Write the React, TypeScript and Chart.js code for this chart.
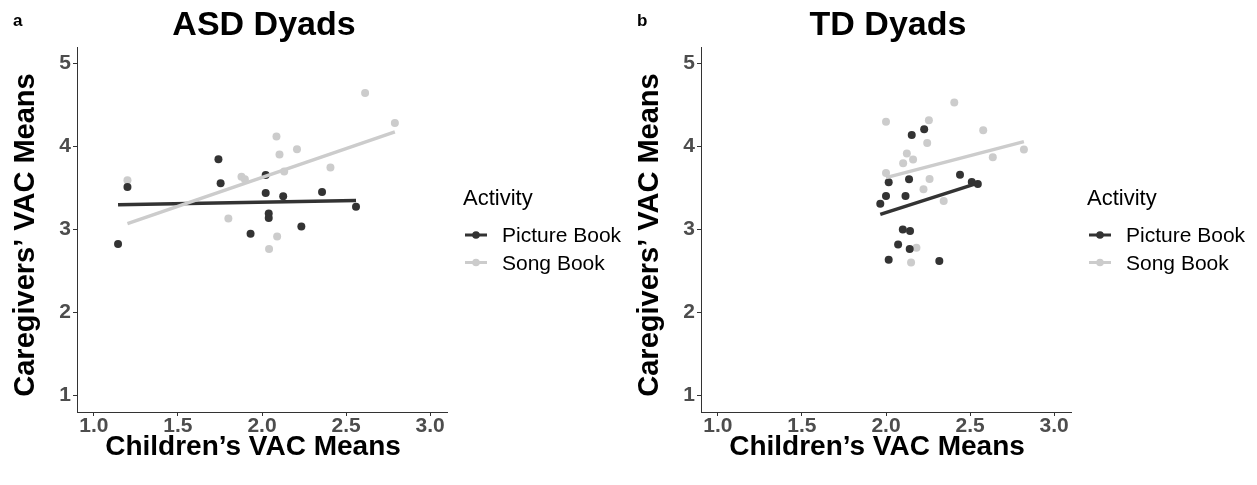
import React, { useEffect, useRef } from 'react';
import { Chart, registerables } from 'chart.js';
Chart.register(...registerables);

const xTicks = [1.0, 1.5, 2.0, 2.5, 3.0];
const yTicks = [1, 2, 3, 4, 5];
const activities = ['Picture Book', 'Song Book'];
const legendTitle = 'Activity';
const xTitle = 'Children\u2019s VAC Means';
const yTitle = 'Caregivers\u2019 VAC Means';

// Panel a: ASD Dyads
const asdPictureX = [1.144, 1.2, 1.741, 1.754, 2.022, 2.022, 2.126, 2.04, 2.04, 1.932, 2.234, 2.357, 2.559];
const asdPictureY = [2.824, 3.512, 3.847, 3.557, 3.657, 3.44, 3.4, 3.194, 3.138, 2.949, 3.037, 3.452, 3.275];
const asdSongX = [1.2, 1.8, 1.878, 1.898, 2.086, 2.104, 2.132, 2.208, 2.407, 2.613, 2.79, 2.042, 2.09];
const asdSongY = [3.593, 3.134, 3.637, 3.605, 4.12, 3.903, 3.698, 3.967, 3.746, 4.644, 4.285, 2.764, 2.917];
const asdPictureFitX = [1.144, 2.559];
const asdPictureFitY = [3.299, 3.351];
const asdSongFitX = [1.2, 2.79];
const asdSongFitY = [3.07, 4.177];

// Panel b: TD Dyads
const tdPictureX = [1.966, 2.0, 2.016, 2.116, 2.137, 2.153, 2.227, 2.44, 2.51, 2.546, 2.1, 2.143, 2.072, 2.141, 2.016, 2.317];
const tdPictureY = [3.311, 3.404, 3.569, 3.404, 3.605, 4.14, 4.209, 3.661, 3.573, 3.549, 3.001, 2.981, 2.82, 2.764, 2.635, 2.619];
const tdSongX = [2.0, 2.255, 2.406, 2.245, 2.124, 2.161, 2.102, 2.0, 2.259, 2.223, 2.343, 2.578, 2.635, 2.82, 2.181, 2.149];
const tdSongY = [4.3, 4.318, 4.531, 4.044, 3.915, 3.843, 3.798, 3.682, 3.609, 3.484, 3.343, 4.197, 3.871, 3.963, 2.78, 2.603];
const tdPictureFitX = [1.966, 2.546];
const tdPictureFitY = [3.182, 3.56];
const tdSongFitX = [2.0, 2.82];
const tdSongFitY = [3.625, 4.06];

const DARK = '#333333';
const LIGHT = '#cccccc';
const FONT = '"Liberation Sans", Arial, Helvetica, sans-serif';

const pts = (xs: number[], ys: number[]) => xs.map((x, i) => ({ x, y: ys[i] }));

type PanelProps = {
  tag: string;
  title: string;
  width: number;
  pictureX: number[]; pictureY: number[];
  songX: number[]; songY: number[];
  pFitX: number[]; pFitY: number[];
  sFitX: number[]; sFitY: number[];
};

function Panel(p: PanelProps) {
  const ref = useRef<HTMLCanvasElement | null>(null);
  useEffect(() => {
    if (!ref.current) return;
    const textPlugin = {
      id: 'panelText',
      afterDraw(chart: any) {
        const { ctx, chartArea: ca } = chart;
        ctx.save();
        ctx.fillStyle = '#000';
        ctx.textBaseline = 'alphabetic';
        ctx.font = `bold 17px ${FONT}`;
        ctx.textAlign = 'left';
        ctx.fillText(p.tag, 13, 26);
        ctx.font = `bold 34px ${FONT}`;
        ctx.textAlign = 'center';
        ctx.fillText(p.title, (ca.left + ca.right) / 2 + 2, 35);
        // axis titles
        ctx.font = `bold 28px ${FONT}`;
        ctx.fillText(xTitle, 253, 455);
        ctx.save();
        ctx.translate(34, 235);
        ctx.rotate(-Math.PI / 2);
        ctx.font = `bold 29px ${FONT}`;
        ctx.fillText(yTitle, 0, 0);
        ctx.restore();
        // legend
        ctx.textAlign = 'left';
        ctx.font = `22px ${FONT}`;
        ctx.fillText(legendTitle, ca.right + 16, 205);
        const colors = [DARK, LIGHT];
        activities.forEach((name, i) => {
          const cy = 235 + i * 27.5;
          ctx.strokeStyle = colors[i];
          ctx.lineWidth = 3;
          ctx.beginPath();
          ctx.moveTo(ca.right + 18, cy);
          ctx.lineTo(ca.right + 40, cy);
          ctx.stroke();
          ctx.fillStyle = colors[i];
          ctx.beginPath();
          ctx.arc(ca.right + 29, cy, 3.8, 0, Math.PI * 2);
          ctx.fill();
          ctx.fillStyle = '#000';
          ctx.font = `21px ${FONT}`;
          ctx.fillText(name, ca.right + 55, cy + 7);
        });
        ctx.restore();
      },
    };
    const chart = new Chart(ref.current, {
      type: 'scatter',
      data: {
        datasets: [
          { label: activities[1] + ' fit', data: pts(p.sFitX, p.sFitY), showLine: true, borderColor: LIGHT, borderWidth: 3.5, pointRadius: 0, order: 0 },
          { label: activities[0] + ' fit', data: pts(p.pFitX, p.pFitY), showLine: true, borderColor: DARK, borderWidth: 3.5, pointRadius: 0, order: 1 },
          { label: activities[0], data: pts(p.pictureX, p.pictureY), backgroundColor: DARK, borderWidth: 0, pointRadius: 4, order: 2 },
          { label: activities[1], data: pts(p.songX, p.songY), backgroundColor: LIGHT, borderWidth: 0, pointRadius: 4, order: 3 },
        ],
      },
      options: {
        responsive: false,
        animation: false,
        layout: { padding: { top: 47, right: p.width - 447, left: 0, bottom: 0 } },
        plugins: { legend: { display: false }, tooltip: { enabled: false }, title: { display: false } },
        scales: {
          x: {
            type: 'linear',
            min: 0.9,
            max: 3.1,
            afterBuildTicks: (s: any) => { s.ticks = xTicks.map((v) => ({ value: v })); },
            afterFit: (s: any) => { s.height = 73; },
            grid: { display: true, drawOnChartArea: false, drawTicks: true, tickLength: 4, color: DARK },
            border: { display: true, color: DARK, width: 1 },
            ticks: {
              autoSkip: false, maxRotation: 0, padding: -2,
              color: '#4d4d4d',
              font: { family: FONT, size: 21, weight: 'bold' },
              callback: (v: any) => Number(v).toFixed(1),
            },
            title: { display: false },
          },
          y: {
            type: 'linear',
            min: 0.8,
            max: 5.2,
            afterBuildTicks: (s: any) => { s.ticks = yTicks.map((v) => ({ value: v })); },
            afterFit: (s: any) => { s.width = 77; },
            grid: { display: true, drawOnChartArea: false, drawTicks: true, tickLength: 4, color: DARK },
            border: { display: true, color: DARK, width: 1 },
            ticks: {
              autoSkip: false, padding: 2,
              color: '#4d4d4d',
              font: { family: FONT, size: 21, weight: 'bold' },
              callback: (v: any) => String(v),
            },
            title: { display: false },
          },
        },
      },
      plugins: [textPlugin],
    } as any);
    return () => chart.destroy();
  }, []);
  return <canvas ref={ref} width={p.width} height={485} style={{ display: 'block' }} />;
}

export default function App() {
  return (
    <div style={{ position: 'absolute', left: 0, top: 0, width: 1257, height: 485, background: '#fff' }}>
      <div style={{ position: 'absolute', left: 0, top: 0 }}>
        <Panel tag="a" title="ASD Dyads" width={624}
          pictureX={asdPictureX} pictureY={asdPictureY} songX={asdSongX} songY={asdSongY}
          pFitX={asdPictureFitX} pFitY={asdPictureFitY} sFitX={asdSongFitX} sFitY={asdSongFitY} />
      </div>
      <div style={{ position: 'absolute', left: 624, top: 0 }}>
        <Panel tag="b" title="TD Dyads" width={633}
          pictureX={tdPictureX} pictureY={tdPictureY} songX={tdSongX} songY={tdSongY}
          pFitX={tdPictureFitX} pFitY={tdPictureFitY} sFitX={tdSongFitX} sFitY={tdSongFitY} />
      </div>
    </div>
  );
}
